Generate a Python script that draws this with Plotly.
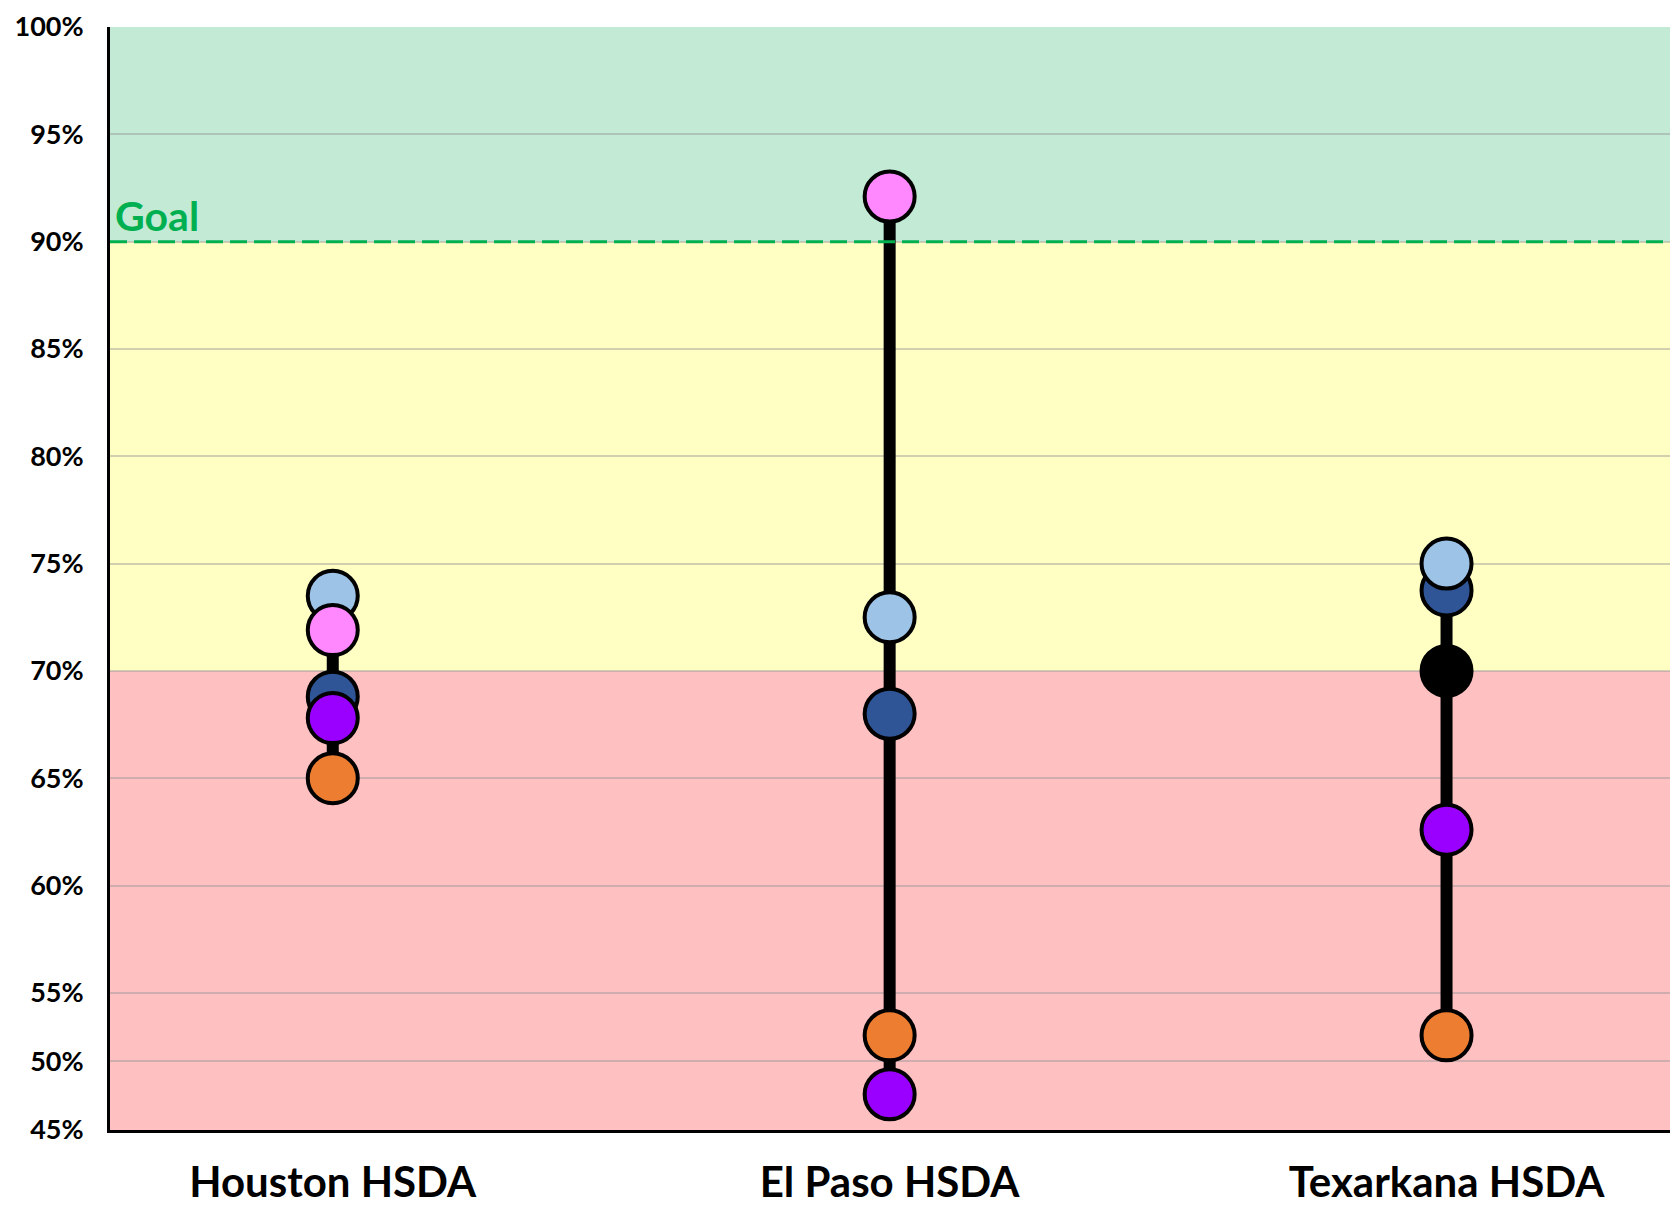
import plotly.graph_objects as go

# ---- data (percent) ----
categories = ["Houston HSDA", "El Paso HSDA", "Texarkana HSDA"]
dark_blue = [68.8, 68.0, 73.75]
light_blue = [73.5, 72.5, 75.0]
pink = [71.9, 92.1, None]
purple = [67.8, 47.6, 62.6]
orange = [65.0, 51.9, 51.9]
black = [None, None, 70.0]

tick_values = [45, 50, 55, 60, 65, 70, 75, 80, 85, 90, 95, 100]
tick_labels = ["45%", "50%", "55%", "60%", "65%", "70%", "75%", "80%", "85%", "90%", "95%", "100%"]

goal = 90
yellow_floor = 70
axis_min = 45
axis_max = 100

# The reference axis is compressed below 55%
BREAK = 55
SQUEEZE = 0.639


def ty(v):
    if v is None:
        return None
    return v if v >= BREAK else BREAK - (BREAK - v) * SQUEEZE


series = [
    ("Dark blue", dark_blue, "#2F5597"),
    ("Light blue", light_blue, "#9DC3E6"),
    ("Pink", pink, "#FF88FF"),
    ("Purple", purple, "#9900FF"),
    ("Orange", orange, "#ED7D31"),
    ("Black", black, "#000000"),
]

fig = go.Figure()

# range lines (min to max per category)
for i, cat in enumerate(categories):
    vals = [s[1][i] for s in series if s[1][i] is not None]
    fig.add_trace(go.Scatter(
        x=[cat, cat], y=[ty(min(vals)), ty(max(vals))], mode="lines",
        line=dict(color="black", width=12), showlegend=False, hoverinfo="skip"))

for name, vals, color in series:
    fig.add_trace(go.Scatter(
        x=categories, y=[ty(v) for v in vals], mode="markers", name=name,
        marker=dict(size=50, color=color, line=dict(color="black", width=4)),
        showlegend=False))

# background bands
bands = [(goal, axis_max, "#C2EAD4"), (yellow_floor, goal, "#FFFFC4"), (axis_min, yellow_floor, "#FEC0C1")]
for lo, hi, col in bands:
    fig.add_shape(type="rect", xref="paper", yref="y", x0=0, x1=1, y0=ty(lo), y1=ty(hi),
                  fillcolor=col, line=dict(width=0), layer="below")

# goal line
fig.add_shape(type="line", xref="paper", yref="y", x0=0, x1=1, y0=ty(goal), y1=ty(goal),
              line=dict(color="#00B050", width=3, dash="17px,7px"), layer="above")
fig.add_annotation(text="Goal", xref="paper", yref="y", x=0.002, y=ty(goal),
                   xanchor="left", yanchor="bottom", showarrow=False, yshift=0,
                   font=dict(family="Lato", size=41, color="#00B050", weight="bold"))

fig.update_layout(
    width=1678, height=1210,
    margin=dict(l=102, r=0, t=19, b=88),
    plot_bgcolor="white", paper_bgcolor="white",
    font=dict(family="Lato", color="black"),
)
fig.update_xaxes(
    type="category", range=[-0.40, 2.43], automargin=False,
    showline=True, linecolor="black", linewidth=3,
    showgrid=False, ticks="", ticklabelstandoff=14,
    tickfont=dict(family="Lato", size=42, color="black", weight="bold"),
)
fig.update_yaxes(
    range=[ty(axis_min), ty(axis_max)], automargin=False, ticklabeloverflow="allow",
    tickvals=[ty(v) for v in tick_values], ticktext=tick_labels,
    showline=True, linecolor="black", linewidth=3,
    showgrid=True, gridcolor="rgba(150,150,150,0.45)", gridwidth=1.5,
    zeroline=False, ticks="", ticklabelstandoff=18,
    tickfont=dict(family="Lato", size=27, color="black", weight="bold"),
)

fig.write_html("out.html")
